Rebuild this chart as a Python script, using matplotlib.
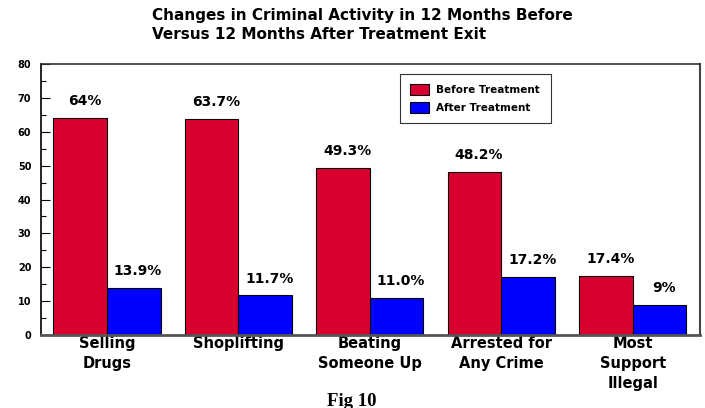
import numpy as np
import matplotlib
matplotlib.use("Agg")
import matplotlib.pyplot as plt
from matplotlib.ticker import MultipleLocator

# data
categories = ["Selling\nDrugs", "Shoplifting", "Beating\nSomeone Up",
              "Arrested for\nAny Crime", "Most\nSupport\nIllegal"]
before = [64, 63.7, 49.3, 48.2, 17.4]
after = [13.9, 11.7, 11.0, 17.2, 9]
before_labels = ["64%", "63.7%", "49.3%", "48.2%", "17.4%"]
after_labels = ["13.9%", "11.7%", "11.0%", "17.2%", "9%"]

RED = "#d90030"
BLUE = "#0000ff"

plt.rcParams["font.family"] = "DejaVu Sans"
plt.rcParams["font.weight"] = "bold"

fig = plt.figure(figsize=(7.05, 4.08), dpi=100)
ax = fig.add_axes([41 / 705, 1 - 335 / 408, (700 - 41) / 705, (335 - 64) / 408])

x = np.arange(len(categories))
width = 0.407

bars_b = ax.bar(x - width / 2, before, width, color=RED, edgecolor="black",
                linewidth=0.8, label="Before Treatment")
bars_a = ax.bar(x + width / 2, after, width, color=BLUE, edgecolor="black",
                linewidth=0.8, label="After Treatment")

#value labels above bars
for bars, labels in ((bars_b, before_labels), (bars_a, after_labels)):
    for bar, lab in zip(bars, labels):
        ax.annotate(lab, (bar.get_x() + bar.get_width() / 2, bar.get_height()),
                    xytext=(3, 7), textcoords="offset points",
                    ha="center", va="bottom", fontsize=10, fontweight="bold")

ax.set_xlim(-0.502, 4.51)
ax.set_ylim(0, 80)
ax.yaxis.set_major_locator(MultipleLocator(10))
ax.yaxis.set_minor_locator(MultipleLocator(5))
ax.tick_params(axis="y", which="major", direction="in", length=6.5, width=0.8,
               pad=7, labelsize=7)
ax.tick_params(axis="y", which="minor", direction="in", length=3.6, width=0.8)
for lab in ax.get_yticklabels():
    lab.set_fontweight("bold")

ax.set_xticks(x)
ax.set_xticklabels(categories, fontsize=10.5, fontweight="bold", linespacing=1.4)
ax.tick_params(axis="x", length=0, pad=1)

ax.spines["left"].set_color("black")
ax.spines["left"].set_linewidth(1.2)
ax.spines["bottom"].set_color("#555555")
ax.spines["bottom"].set_linewidth(2)
ax.spines["top"].set_color("#333333")
ax.spines["top"].set_linewidth(1.2)
ax.spines["right"].set_color("#444444")
ax.spines["right"].set_linewidth(1.5)

leg = ax.legend(loc="upper left", bbox_to_anchor=(400 / 705, 1 - 74 / 408),
                bbox_transform=fig.transFigure, borderaxespad=0, fancybox=False,
                edgecolor="black", prop={"weight": "bold", "size": 7.5},
                handlelength=1.75, handleheight=1.25, labelspacing=0.6,
                borderpad=1.0, handletextpad=0.75)
leg.get_frame().set_linewidth(0.8)

fig.text(152 / 705, 1 - 8 / 408,
         "Changes in Criminal Activity in 12 Months Before\n"
         "Versus 12 Months After Treatment Exit",
         ha="left", va="top", fontsize=11, fontweight="bold", linespacing=1.3)

fig.text(352 / 705, 1 - 401 / 408, "Fig 10", ha="center", va="center",
         family="Liberation Serif", fontsize=13.5, fontweight="bold")

fig.savefig("out.png", dpi=100)
